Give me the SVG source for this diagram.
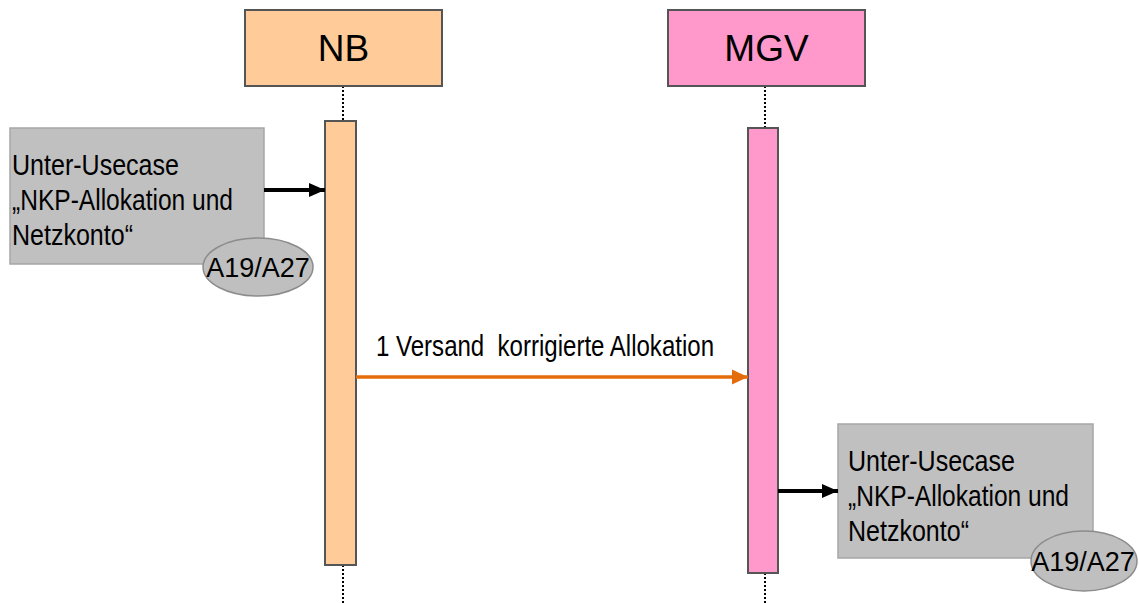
<svg xmlns="http://www.w3.org/2000/svg" width="1139" height="603" viewBox="0 0 1139 603">
<defs>
<style>
.hdr{stroke:#555555;stroke-width:2}
.act{stroke:#555555;stroke-width:2}
.nb{fill:#FFCC99}
.mgv{fill:#FF99CC}
.gbox{fill:#C0C0C0;stroke:#A6A6A6;stroke-width:1.5}
.ell{fill:#BFBFBF;stroke:#8C8C8C;stroke-width:1.5}
.life{stroke:#000;stroke-width:2;stroke-dasharray:2 2;fill:none}
.t{font-family:"Liberation Sans",Arial,sans-serif;fill:#000}
.big{font-size:37px}
.box{font-size:30px}
.tag{font-size:27px}
.msg{font-size:29px;white-space:pre}
</style>
<marker id="ab" markerUnits="userSpaceOnUse" markerWidth="16" markerHeight="16" refX="16" refY="8" orient="auto" viewBox="0 0 16 16">
<polygon points="0,1 16,8 0,15" fill="#000"/>
</marker>
<marker id="ao" markerUnits="userSpaceOnUse" markerWidth="16" markerHeight="16" refX="16" refY="8" orient="auto" viewBox="0 0 16 16">
<polygon points="0,0.5 16,8 0,15.5" fill="#E46C0A"/>
</marker>
</defs>
<rect width="1139" height="603" fill="#fff"/>
<g id="lifelines">
<line class="life" x1="343" y1="86" x2="343" y2="121"/>
<line class="life" x1="343" y1="565" x2="343" y2="603"/>
<line class="life" x1="765" y1="86" x2="765" y2="128"/>
<line class="life" x1="765" y1="573" x2="765" y2="603"/>
</g>
<g id="nb">
<rect class="hdr nb" x="245" y="10" width="197" height="76"/>
<text class="t big" x="343.5" y="61" text-anchor="middle">NB</text>
</g>
<g id="mgv">
<rect class="hdr mgv" x="668" y="10" width="197" height="76"/>
<text class="t big" x="766.5" y="61" text-anchor="middle">MGV</text>
</g>
<g id="nb-activation">
<rect class="act nb" x="325" y="121" width="31" height="444"/>
</g>
<g id="mgv-activation">
<rect class="act mgv" x="748" y="128" width="30" height="445"/>
</g>
<g id="usecase-left">
<rect class="gbox" x="10" y="128" width="254" height="136"/>
<text class="t box" x="12" y="175" textLength="167" lengthAdjust="spacingAndGlyphs">Unter-Usecase</text>
<text class="t box" x="12" y="210" textLength="221" lengthAdjust="spacingAndGlyphs">„NKP-Allokation und</text>
<text class="t box" x="12" y="245" textLength="121" lengthAdjust="spacingAndGlyphs">Netzkonto“</text>
<ellipse class="ell" cx="258" cy="267" rx="55" ry="29"/>
<text class="t tag" x="258" y="277" text-anchor="middle">A19/A27</text>
</g>
<g id="usecase-right">
<rect class="gbox" x="838" y="424" width="255" height="134"/>
<text class="t box" x="848" y="471" textLength="167" lengthAdjust="spacingAndGlyphs">Unter-Usecase</text>
<text class="t box" x="848" y="506" textLength="221" lengthAdjust="spacingAndGlyphs">„NKP-Allokation und</text>
<text class="t box" x="848" y="541" textLength="121" lengthAdjust="spacingAndGlyphs">Netzkonto“</text>
<ellipse class="ell" cx="1084" cy="561" rx="53" ry="30"/>
<text class="t tag" x="1083" y="571" text-anchor="middle">A19/A27</text>
</g>
<g id="connectors">
<line x1="264" y1="190" x2="325" y2="190" stroke="#000" stroke-width="4" marker-end="url(#ab)"/>
<line x1="356" y1="377" x2="748" y2="377" stroke="#E46C0A" stroke-width="3.5" marker-end="url(#ao)"/>
<line x1="778" y1="491" x2="838" y2="491" stroke="#000" stroke-width="4" marker-end="url(#ab)"/>
<text class="t msg" x="376" y="356" textLength="338" lengthAdjust="spacingAndGlyphs">1 Versand  korrigierte Allokation</text>
</g>
</svg>
